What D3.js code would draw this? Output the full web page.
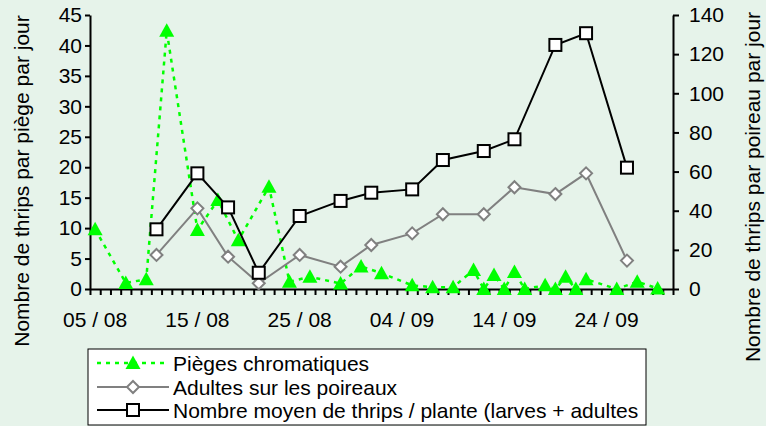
<!DOCTYPE html>
<html><head><meta charset="utf-8">
<script src="https://cdn.jsdelivr.net/npm/d3@7"></script>
<style>
html,body{margin:0;padding:0;background:#E6F3EA;}
svg{display:block;font-family:"Liberation Sans",Arial,sans-serif;}
</style></head>
<body>
<script>
// ---- data ----
const startDay = "05/08";
const endDay = "30/09";
const xTickLabels = ["05 / 08","15 / 08","25 / 08","04 / 09","14 / 09","24 / 09"];
const xLabelDays = ["05/08","15/08","25/08","04/09","14/09","24/09"];
const leftTicks = [0,5,10,15,20,25,30,35,40,45];
const rightTicks = [0,20,40,60,80,100,120,140];

const trapDates = ["05/08","08/08","10/08","12/08","15/08","17/08","19/08","22/08","24/08","26/08","29/08","31/08","02/09","05/09","07/09","09/09","11/09","12/09","13/09","14/09","15/09","16/09","18/09","19/09","20/09","21/09","22/09","25/09","27/09","29/09"];
const trapValues = [9.8,1.0,1.6,42.4,9.7,14.6,8.0,16.8,1.2,2.0,0.9,3.7,2.6,0.6,0.3,0.3,3.1,0,2.3,0,2.8,0,0.6,0,2.0,0,1.6,0,1.2,0.1];

const plantDates = ["11/08","15/08","18/08","21/08","25/08","29/08","01/09","05/09","08/09","12/09","15/09","19/09","22/09","26/09"];
const adultValues = [17.4,41.2,16.5,2.9,17.4,11.4,22.5,28.4,38.2,38.2,52.0,48.5,59.1,14.5];
const meanValues = [30.5,59.1,41.7,8.3,37.3,45.0,49.2,50.9,65.9,70.5,76.5,124.7,130.7,62.0];

const seriesNames = ["Pièges chromatiques","Adultes sur les poireaux","Nombre moyen de thrips / plante (larves + adultes"];
const leftTitle = "Nombre de thrips par piège par jour";
const rightTitle = "Nombre de thrips par poireau par jour";

// ---- layout ----
const W = 766, H = 426;
const plot = {l:90, r:673, t:15, b:289};
const FONT = 21;

const parse = d3.timeParse("%d/%m");
const d0 = parse(startDay), d1 = parse(endDay);
const allDays = d3.timeDay.range(d0, d3.timeDay.offset(d1, 1));
const idx = s => d3.timeDay.count(d0, parse(s));

const xb = d3.scaleBand().domain(d3.range(allDays.length)).range([plot.l, plot.r]).padding(0);
const xl = d3.scaleLinear().domain([0, allDays.length]).range([plot.l, plot.r]);
const xc = s => xb(idx(s)) + xb.bandwidth()/2;
const yL = d3.scaleLinear().domain([0,45]).range([plot.b, plot.t]);
const yR = d3.scaleLinear().domain([0,140]).range([plot.b, plot.t]);

const svg = d3.select("body").append("svg").attr("width",W).attr("height",H);
svg.append("rect").attr("width",W).attr("height",H).attr("fill","#E6F3EA");

// axes
const gL = svg.append("g").attr("transform",`translate(${plot.l},0)`)
  .call(d3.axisLeft(yL).tickValues(leftTicks).tickSize(5).tickPadding(3).tickSizeOuter(0));
const gR = svg.append("g").attr("transform",`translate(${plot.r},0)`)
  .call(d3.axisRight(yR).tickValues(rightTicks).tickSize(6).tickPadding(10).tickSizeOuter(0));
const gX = svg.append("g").attr("transform",`translate(0,${plot.b})`)
  .call(d3.axisBottom(xl).tickValues(d3.range(allDays.length+1)).tickSize(6).tickFormat("").tickSizeOuter(0));
const gXL = svg.append("g").attr("transform",`translate(0,${plot.b})`)
  .call(d3.axisBottom(xb).tickValues(xLabelDays.map(idx)).tickSize(0).tickPadding(23)
    .tickFormat(d => xTickLabels[xLabelDays.map(idx).indexOf(d)]));
gXL.select(".domain").remove();
[gL,gR,gX].forEach(g=>{
  g.selectAll(".domain").attr("stroke","#000").attr("stroke-width",2);
  g.selectAll(".tick line").attr("stroke","#000").attr("stroke-width",2);
});
[gL,gR,gXL].forEach(g=>g.selectAll("text").attr("fill","#000").style("font-size",FONT+"px").style("font-family","'Liberation Sans',Arial,sans-serif"));

// titles
svg.append("text").attr("transform",`translate(29,181) rotate(-90)`).attr("text-anchor","middle")
  .style("font-size",FONT+"px").text(leftTitle);
svg.append("text").attr("transform",`translate(760,187) rotate(-90)`).attr("text-anchor","middle")
  .style("font-size",FONT+"px").text(rightTitle);

// series
function triPath(){ return "M0,-7.5L7.5,6L-7.5,6Z"; }
const trapLine = d3.line().x((d,i)=>xc(trapDates[i])).y(d=>yL(d));
svg.append("path").attr("d",trapLine(trapValues)).attr("fill","none").attr("stroke","#00FF00")
  .attr("stroke-width",2.5).attr("stroke-dasharray","4,5");
svg.append("g").selectAll("path").data(trapValues).join("path")
  .attr("transform",(d,i)=>`translate(${xc(trapDates[i])},${yL(d)})`)
  .attr("d",triPath()).attr("fill","#00FF00");

const adLine = d3.line().x((d,i)=>xc(plantDates[i])).y(d=>yR(d));
svg.append("path").attr("d",adLine(adultValues)).attr("fill","none").attr("stroke","#808080").attr("stroke-width",2);
svg.append("g").selectAll("path").data(adultValues).join("path")
  .attr("transform",(d,i)=>`translate(${xc(plantDates[i])},${yR(d)})`)
  .attr("d","M0,-6L6,0L0,6L-6,0Z").attr("fill","#fff").attr("stroke","#808080").attr("stroke-width",2);

svg.append("path").attr("d",adLine(meanValues)).attr("fill","none").attr("stroke","#000").attr("stroke-width",2);
svg.append("g").selectAll("rect").data(meanValues).join("rect")
  .attr("x",(d,i)=>xc(plantDates[i])-6).attr("y",d=>yR(d)-6).attr("width",12).attr("height",12)
  .attr("fill","#fff").attr("stroke","#000").attr("stroke-width",2);

// legend
const lg = svg.append("g");
lg.append("rect").attr("x",88).attr("y",349).attr("width",558).attr("height",76)
  .attr("fill","#fff").attr("stroke","#000").attr("stroke-width",1);
const rows = [363,387,410];
const lx0 = 97, lx1 = 169, lmx = 133;
lg.append("line").attr("x1",lx0).attr("x2",lx1).attr("y1",rows[0]).attr("y2",rows[0])
  .attr("stroke","#00FF00").attr("stroke-width",2.5).attr("stroke-dasharray","4,5");
lg.append("path").attr("transform",`translate(${lmx},${rows[0]})`).attr("d",triPath()).attr("fill","#00FF00");
lg.append("line").attr("x1",lx0).attr("x2",lx1).attr("y1",rows[1]).attr("y2",rows[1]).attr("stroke","#808080").attr("stroke-width",2);
lg.append("path").attr("transform",`translate(${lmx},${rows[1]})`).attr("d","M0,-6L6,0L0,6L-6,0Z")
  .attr("fill","#fff").attr("stroke","#808080").attr("stroke-width",2);
lg.append("line").attr("x1",lx0).attr("x2",lx1).attr("y1",rows[2]).attr("y2",rows[2]).attr("stroke","#000").attr("stroke-width",2);
lg.append("rect").attr("x",lmx-6).attr("y",rows[2]-6).attr("width",12).attr("height",12)
  .attr("fill","#fff").attr("stroke","#000").attr("stroke-width",2);
lg.selectAll("text.lt").data(seriesNames).join("text").attr("class","lt")
  .attr("x",173).attr("y",(d,i)=>rows[i]+7.5).style("font-size",FONT+"px").text(d=>d);
</script>
</body></html>
